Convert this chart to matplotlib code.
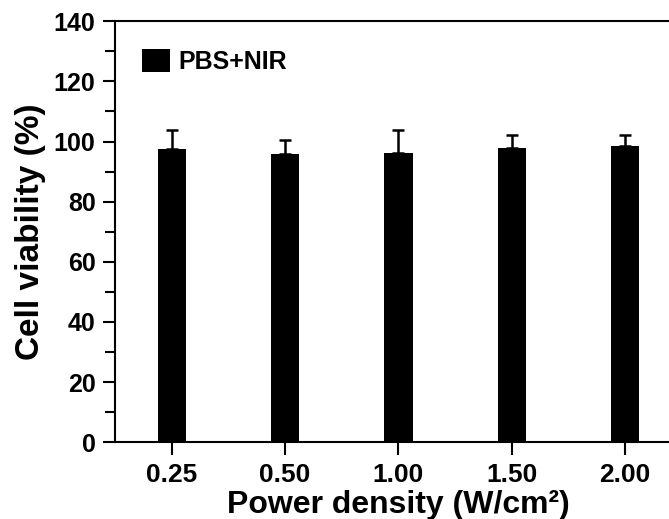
import numpy as np
import matplotlib.pyplot as plt
from matplotlib.ticker import MultipleLocator

# power densities (W/cm2) and viability readings
power_labels = ['0.25', '0.50', '1.00', '1.50', '2.00']
viability = [97.5, 95.7, 96.1, 97.8, 98.4]
viability_err = [6.5, 4.8, 7.7, 4.5, 3.7]

plt.rcParams['font.family'] = ['Liberation Sans', 'DejaVu Sans']
plt.rcParams['font.weight'] = 'bold'

fig = plt.figure(figsize=(6.69, 5.19), dpi=100)
ax = fig.add_axes([0.172, 0.148, 0.847, 0.811])

x = np.arange(len(power_labels))
ax.bar(x, viability, width=0.25, color='black', label='PBS+NIR', zorder=2)
ax.errorbar(x, viability, yerr=[np.zeros(len(x)), viability_err], fmt='none',
            ecolor='black', elinewidth=1.8, capsize=4.5, capthick=1.8, zorder=1)

ax.set_xlim(-0.5, 4.5)
ax.set_ylim(0, 140)
ax.set_xticks(x)
ax.set_xticklabels(power_labels)
ax.yaxis.set_major_locator(MultipleLocator(20))
ax.yaxis.set_minor_locator(MultipleLocator(10))

for s in ax.spines.values():
    s.set_linewidth(1.5)
ax.tick_params(axis='both', which='major', length=9, width=1.5)
ax.tick_params(axis='x', labelsize=19, pad=6)
ax.tick_params(axis='y', labelsize=18, pad=5)
ax.tick_params(axis='y', which='minor', length=7, width=1.5)

ax.set_xlabel('Power density (W/cm²)', fontsize=23, fontweight='bold', labelpad=2)
ax.set_ylabel('Cell viability (%)', fontsize=24, fontweight='bold', labelpad=6)

leg = ax.legend(loc='upper left', frameon=False, fontsize=18, handlelength=1.12,
                handleheight=1.0, handletextpad=0.35, bbox_to_anchor=(0.008, 0.987))

fig.savefig('out.png', dpi=100)
